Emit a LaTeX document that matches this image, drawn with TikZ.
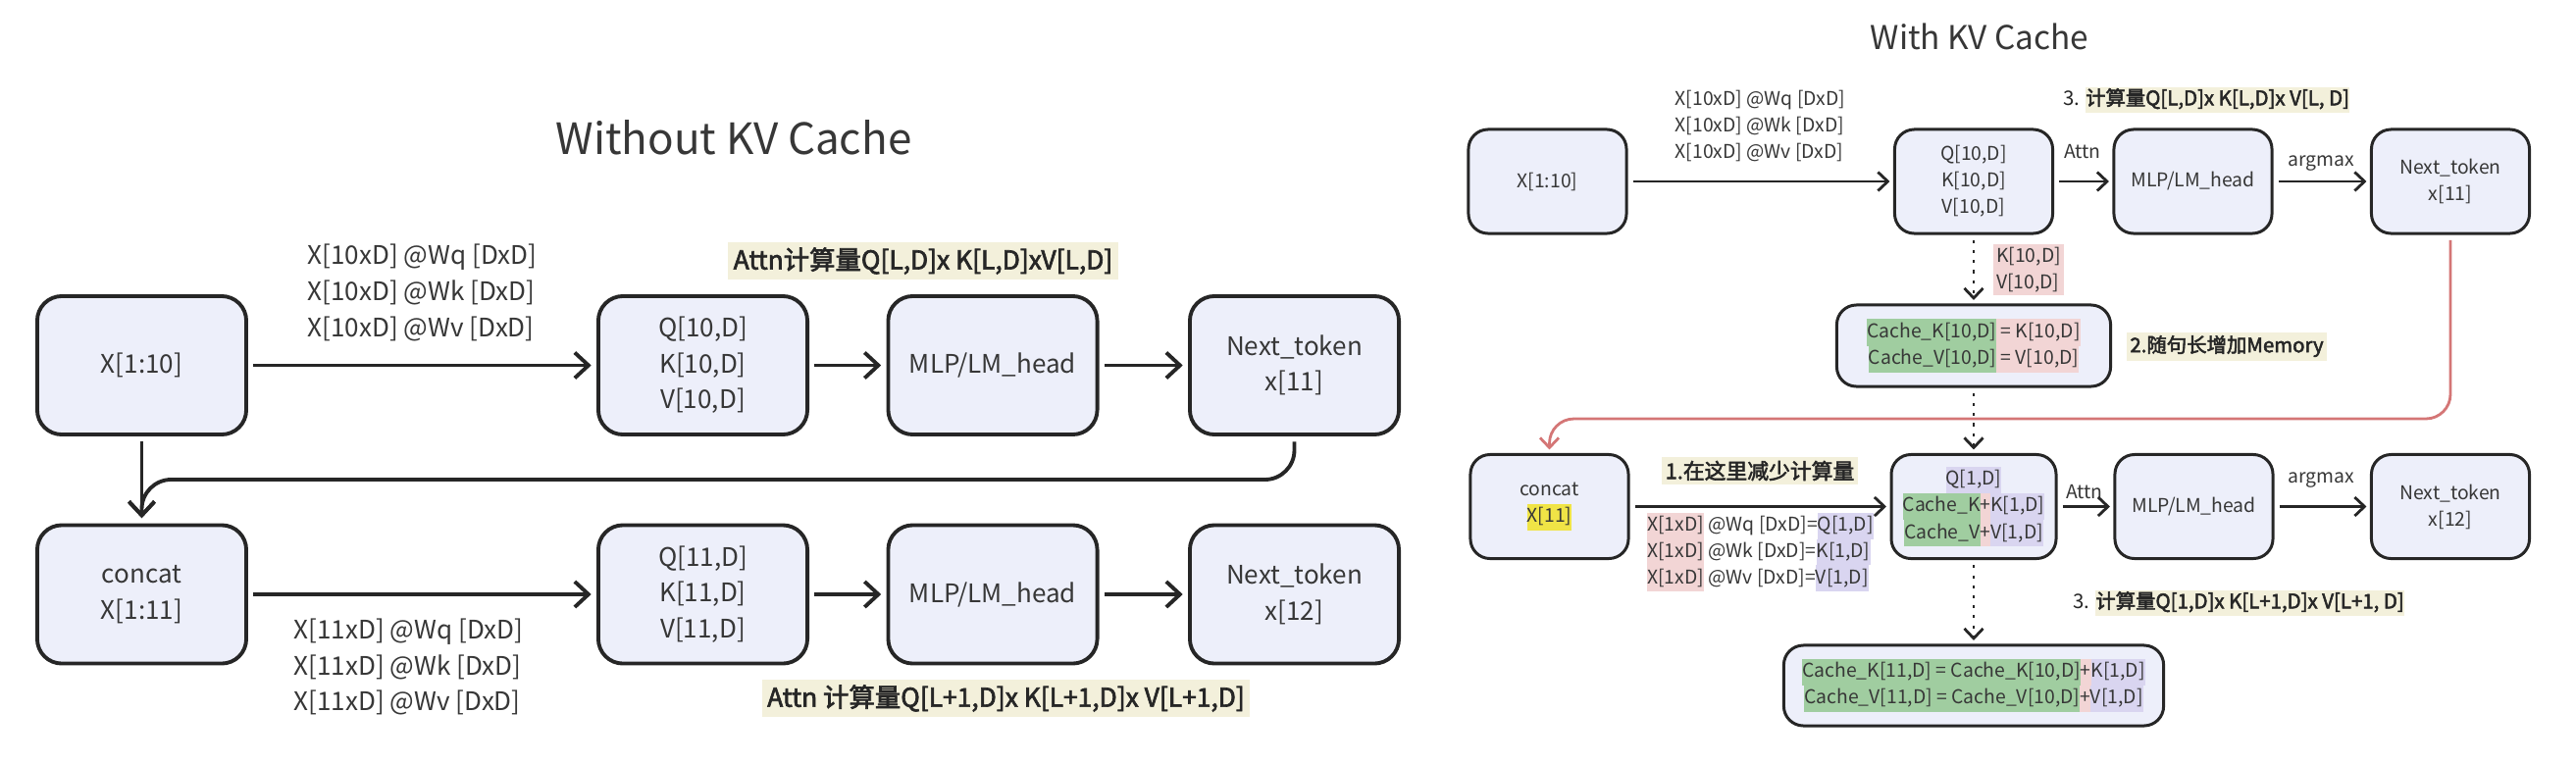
\documentclass[tikz,border=0pt]{standalone}
\usepackage{fontspec}
\setmainfont{Noto Sans CJK SC}[AutoFakeBold=2.5]
\usetikzlibrary{arrows.meta}

\definecolor{boxfill}{RGB}{237,239,250}
\definecolor{textgray}{RGB}{55,55,55}
\definecolor{hlbeige}{RGB}{243,240,219}
\definecolor{hlpink}{RGB}{242,213,213}
\definecolor{hlgreen}{RGB}{160,205,160}
\definecolor{hlpurple}{RGB}{217,213,240}
\definecolor{hlyellow}{RGB}{240,228,70}
\definecolor{redline}{RGB}{212,118,118}

\newcommand{\hl}[2]{{\setlength{\fboxsep}{0pt}\colorbox{#1}{\strut#2}}}

\tikzset{
    bigbox/.style = {draw = black!85, fill = boxfill, line width = 1.1pt, rounded corners = 2.5mm,
        minimum width = 2.13cm, minimum height = 1.41cm, align = center, text = textgray,
        font = \fontsize{7.4}{10.4}\selectfont},
    smallbox/.style = {draw = black!85, fill = boxfill, line width = 0.85pt, rounded corners = 2mm,
        minimum width = 1.61cm, minimum height = 1.06cm, align = center, text = textgray,
        font = \fontsize{5.5}{7.7}\selectfont},
    lbla/.style = {align = left, text = textgray, font = \fontsize{7.4}{10.4}\selectfont},
    lblb/.style = {align = left, text = textgray, font = \fontsize{5.5}{7.6}\selectfont},
    notea/.style = {fill = hlbeige, inner sep = 1.5pt, text = black!85, font = \fontsize{7.5}{10}\selectfont\bfseries},
    noteb/.style = {fill = hlbeige, inner sep = 1pt, text = black!85, font = \fontsize{5.8}{7.6}\selectfont\bfseries},
    arra/.style = {line width = 1.1pt, black!85, -{Straight Barb[length=1.4mm, width=2.6mm]},
        shorten < = 1.5pt, shorten > = 1.5pt},
    arrb/.style = {line width = 0.8pt, black!85, -{Straight Barb[length=1mm, width=1.9mm]},
        shorten < = 1.5pt, shorten > = 1pt},
    dotarr/.style = {arrb, dash pattern = on 0.9pt off 2pt},
}

\begin{document}
\begin{tikzpicture}[x = 0.01cm, y = -0.01cm]

    \useasboundingbox (0, 0) rectangle (2626, 778);

    % ---------------- Without KV Cache ----------------
    \node[text = textgray, font = \fontsize{12.5}{14}\selectfont] (ttla) at (748, 140) {Without KV Cache};

    % First pass
    \node[bigbox] (xa) at (144.5, 372.5) {X[1:10]};
    \node[bigbox] (qa) at (716.5, 372.5) {Q[10,D]\\K[10,D]\\V[10,D]};
    \node[bigbox] (ma) at (1012, 372.5) {MLP/LM\_head};
    \node[bigbox] (na) at (1319.5, 372.5) {Next\_token\\x[11]};

    % Second pass
    \node[bigbox] (xb) at (144.5, 606) {concat\\X[1:11]};
    \node[bigbox] (qb) at (716.5, 606) {Q[11,D]\\K[11,D]\\V[11,D]};
    \node[bigbox] (mb) at (1012, 606) {MLP/LM\_head};
    \node[bigbox] (nb) at (1319.5, 606) {Next\_token\\x[12]};

    % Labels
    \node[lbla] (wa) at (430.5, 298.5) {X[10xD] @Wq [DxD]\\X[10xD] @Wk [DxD]\\X[10xD] @Wv [DxD]};
    \node[lbla] (wb) at (416.5, 680) {X[11xD] @Wq [DxD]\\X[11xD] @Wk [DxD]\\X[11xD] @Wv [DxD]};
    \node[notea] (ca) at (941, 266) {Attn计算量Q[L,D]x K[L,D]xV[L,D]};
    \node[notea] (cb) at (1025.5, 712) {Attn 计算量Q[L+1,D]x K[L+1,D]x V[L+1,D]};

    % Arrows
    \draw[arra] (xa) -- (qa);
    \draw[arra] (qa) -- (ma);
    \draw[arra] (ma) -- (na);
    \draw[arra] (xb) -- (qb);
    \draw[arra] (qb) -- (mb);
    \draw[arra] (mb) -- (nb);
    \coordinate (fa) at (144.5, 489);
    \draw[arra] (xa) -- (xb);
    \draw[arra, rounded corners = 3mm] (na.south) |- (fa) -- (xb.north);

    % ---------------- With KV Cache ----------------
    \node[text = textgray, font = \fontsize{9.5}{11}\selectfont] (ttlb) at (2018, 37) {With KV Cache};

    % First pass
    \node[smallbox] (xc) at (1577.5, 185) {X[1:10]};
    \node[smallbox] (qc) at (2012, 185) {Q[10,D]\\K[10,D]\\V[10,D]};
    \node[smallbox] (mc) at (2235.5, 185) {MLP/LM\_head};
    \node[smallbox] (nc) at (2498, 185) {Next\_token\\x[11]};
    \node[smallbox, minimum width = 2.79cm, minimum height = 0.83cm] (cc) at (2012, 352.5)
        {\hl{hlgreen}{Cache\_K[10,D]}\hl{hlpink}{\ = K[10,D]}\\\hl{hlgreen}{Cache\_V[10,D]}\hl{hlpink}{\ = V[10,D]}};

    % Second pass
    \node[smallbox] (xd) at (1579.5, 516.5) {concat\\\hl{hlyellow}{X[11]}};
    \node[smallbox] (qd) at (2012, 516.5)
        {\hl{hlpurple}{Q[1,D]}\\\hl{hlgreen}{Cache\_K}\hl{hlpink}{+}\hl{hlpurple}{K[1,D]}\\\hl{hlgreen}{Cache\_V}\hl{hlpink}{+}\hl{hlpurple}{V[1,D]}};
    \node[smallbox] (md) at (2236.5, 516.5) {MLP/LM\_head};
    \node[smallbox] (nd) at (2498, 516.5) {Next\_token\\x[12]};
    \node[smallbox, minimum width = 3.87cm, minimum height = 0.82cm] (cd) at (2012, 699)
        {\hl{hlgreen}{Cache\_K[11,D] = Cache\_K[10,D]}\hl{hlpink}{+}\hl{hlpurple}{K[1,D]}\\\hl{hlgreen}{Cache\_V[11,D] = Cache\_V[10,D]}\hl{hlpink}{+}\hl{hlpurple}{V[1,D]}};

    % Labels
    \node[lblb] (wc) at (1794.5, 128.5) {X[10xD] @Wq [DxD]\\X[10xD] @Wk [DxD]\\X[10xD] @Wv [DxD]};
    \node[lblb] (wd) at (1794.5, 563)
        {\hl{hlpink}{X[1xD]} @Wq [DxD]=\hl{hlpurple}{Q[1,D]}\\\hl{hlpink}{X[1xD]} @Wk [DxD]=\hl{hlpurple}{K[1,D]}\\\hl{hlpink}{X[1xD]} @Wv [DxD]=\hl{hlpurple}{V[1,D]}};
    \node[lblb, fill = hlpink, inner sep = 1pt] (kv) at (2068, 275) {K[10,D]\\V[10,D]};
    \node[lblb] (ta) at (2123, 155) {Attn};
    \node[lblb] (ga) at (2366, 167) {argmax};
    \node[lblb] (tb) at (2125, 502) {Attn};
    \node[lblb] (gb) at (2366, 490) {argmax};
    \node[lblb, text = black!85, font = \fontsize{5.8}{7.6}\selectfont] (cc1) at (2249, 102) {3. \hl{hlbeige}{\bfseries 计算量Q[L,D]x K[L,D]x V[L, D]}};
    \node[noteb] (cc2) at (2270, 353) {2.随句长增加Memory};
    \node[noteb, font = \fontsize{6.2}{7.6}\selectfont\bfseries] (cc3) at (1794, 480) {1.在这里减少计算量};
    \node[lblb, text = black!85, font = \fontsize{5.8}{7.6}\selectfont] (cc4) at (2282, 615) {3. \hl{hlbeige}{\bfseries 计算量Q[1,D]x K[L+1,D]x V[L+1, D]}};

    % Arrows
    \draw[arrb] (xc) -- (qc);
    \draw[arrb] (qc) -- (mc);
    \draw[arrb] (mc) -- (nc);
    \draw[arrb] (xd) -- (qd);
    \draw[arrb] (qd) -- (md);
    \draw[arrb] (md) -- (nd);
    \draw[dotarr] (qc) -- (cc);
    \draw[dotarr] (cc) -- (qd);
    \draw[dotarr] (qd) -- (cd);
    \coordinate (rf) at (1579.5, 427);
    \draw[arrb, redline, rounded corners = 2.5mm] (nc.south) |- (rf) -- (xd.north);

\end{tikzpicture}
\end{document}
